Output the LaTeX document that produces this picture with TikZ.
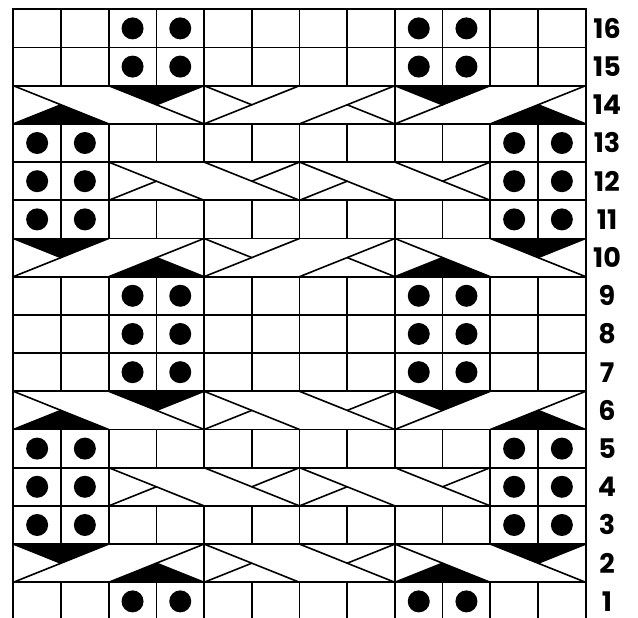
\documentclass[tikz,border=0pt]{standalone}
\usepackage{fontspec}
\newfontfamily\lblfont{Poppins}
\newcommand\Fbs[2]{\draw[diag] (#1,#2) -- ({#1+2},{#2-1});}
\newcommand\Fsl[2]{\draw[diag] (#1,{#2-1}) -- ({#1+2},#2);}
\newcommand\Hbsu[2]{\draw[diag] (#1,#2) -- ({#1+1},{#2-0.5});}
\newcommand\Hbsl[2]{\draw[diag] ({#1+1},{#2-0.5}) -- ({#1+2},{#2-1});}
\newcommand\Hslu[2]{\draw[diag] ({#1+1},{#2-0.5}) -- ({#1+2},#2);}
\newcommand\Hsll[2]{\draw[diag] (#1,{#2-1}) -- ({#1+1},{#2-0.5});}
\newcommand\Btop[2]{\fill[blk] (#1,#2) -- ({#1+2},#2) -- ({#1+1},{#2-0.5}) -- cycle;}
\newcommand\Bbot[2]{\fill[blk] (#1,{#2-1}) -- ({#1+2},{#2-1}) -- ({#1+1},{#2-0.5}) -- cycle;}
\begin{document}
\begin{tikzpicture}[x=47.7pt,y=38.2pt,
  gridln/.style={line width=1.7pt},
  diag/.style={line width=1.6pt, line cap=round},
  blk/.style={fill=black},
  dotmark/.style={fill=black},
  lbl/.style={font=\lblfont\bfseries\fontsize{27}{27}\selectfont, inner sep=0pt}]
\useasboundingbox[fill=white] (-0.27883,0.06545) rectangle (13.09644,16.24346);
\clip (-0.27883,0.06545) rectangle (13.09644,16.24346);
% black triangles first
\Bbot{0}{14}\Btop{2}{14}\Btop{8}{14}\Bbot{10}{14}
\Bbot{0}{6}\Btop{2}{6}\Btop{8}{6}\Bbot{10}{6}
\Btop{0}{10}\Bbot{2}{10}\Bbot{8}{10}\Btop{10}{10}
\Btop{0}{2}\Bbot{2}{2}\Bbot{8}{2}\Btop{10}{2}
% horizontal lines
\foreach \r in {0,...,16} \draw[gridln] (0,\r) -- (12,\r);
% verticals
\foreach \r in {1,3,5,7,8,9,11,13,15,16} \foreach \c in {0,...,12} \draw[gridln] (\c,{\r-1}) -- (\c,\r);
\foreach \r in {4,12} \foreach \c in {0,1,2,6,10,11,12} \draw[gridln] (\c,{\r-1}) -- (\c,\r);
\foreach \r in {2,6,10,14} \foreach \c in {0,4,8,12} \draw[gridln] (\c,{\r-1}) -- (\c,\r);
\draw[line width=2.2pt] (0,0) rectangle (12,16);
% dots
\foreach \r in {16,15,9,8,7,1} \foreach \c in {2,3,8,9} \fill[dotmark] ({\c+0.5},{\r-0.5}) circle[radius=11pt];
\foreach \r in {13,12,11,5,4,3} \foreach \c in {0,1,10,11} \fill[dotmark] ({\c+0.5},{\r-0.5}) circle[radius=11pt];
% row 14
\Fbs{0}{14}\Hsll{0}{14}\Fbs{2}{14}\Hslu{2}{14}
\Fsl{4}{14}\Hbsu{4}{14}\Fsl{6}{14}\Hbsl{6}{14}
\Fsl{8}{14}\Hbsu{8}{14}\Fsl{10}{14}\Hbsl{10}{14}
% row 6
\Fbs{0}{6}\Hsll{0}{6}\Fbs{2}{6}\Hslu{2}{6}
\Fbs{4}{6}\Hsll{4}{6}\Fbs{6}{6}\Hslu{6}{6}
\Fsl{8}{6}\Hbsu{8}{6}\Fsl{10}{6}\Hbsl{10}{6}
% row 10
\Fsl{0}{10}\Hbsu{0}{10}\Fsl{2}{10}\Hbsl{2}{10}
\Fsl{4}{10}\Hbsu{4}{10}\Fsl{6}{10}\Hbsl{6}{10}
\Fbs{8}{10}\Hsll{8}{10}\Fbs{10}{10}\Hslu{10}{10}
% row 2
\Fsl{0}{2}\Hbsu{0}{2}\Fsl{2}{2}\Hbsl{2}{2}
\Fbs{4}{2}\Hsll{4}{2}\Fbs{6}{2}\Hslu{6}{2}
\Fbs{8}{2}\Hsll{8}{2}\Fbs{10}{2}\Hslu{10}{2}
% rows 12 and 4
\foreach \r in {12,4} {
  \Fbs{2}{\r}\Hsll{2}{\r}\Fbs{4}{\r}\Hslu{4}{\r}
  \Fbs{6}{\r}\Hsll{6}{\r}\Fbs{8}{\r}\Hslu{8}{\r}
}
% labels
\foreach \r in {1,...,16} \node[lbl] (l\r) at (12.447,{\r-0.5}) {\r};
\end{tikzpicture}
\end{document}
